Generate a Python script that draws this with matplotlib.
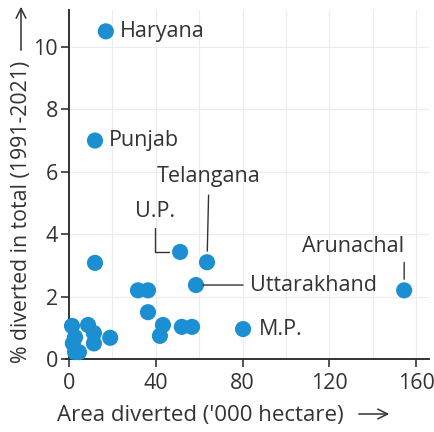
import matplotlib
matplotlib.use("Agg")
import matplotlib.pyplot as plt

area = [17, 12, 51.2, 63.6, 58.5, 154.4, 80.2, 12,
        31.8, 36.4, 36.4, 43.3, 41.9, 52, 56.7,
        1.4, 8.8, 2.8, 11.5, 19.0, 11.5, 1.8, 2.8, 4.6]
pct = [10.5, 7.0, 3.43, 3.1, 2.37, 2.2, 0.96, 3.08,
       2.2, 2.2, 1.5, 1.09, 0.74, 1.03, 1.03,
       1.06, 1.09, 0.7, 0.83, 0.68, 0.5, 0.5, 0.22, 0.22]
labels = ["Haryana", "Punjab", "U.P.", "Telangana", "Uttarakhand", "Arunachal", "M.P."]

xticks = [0, 40, 80, 120, 160]
yticks = [0, 2, 4, 6, 8, 10]
xlabel = "Area diverted ('000 hectare)"
ylabel = "% diverted in total (1991-2021)"

FONT = ["Open Sans", "DejaVu Sans"]
plt.rcParams["font.family"] = FONT
TXT = "#333333"
BLUE = "#1b8fd2"

W, H = 435, 432
fig = plt.figure(figsize=(W / 100, H / 100), dpi=100)
ax = fig.add_axes([0.151, 0.169, 0.836, 0.809])
ax.set_xlim(-1.5, 166)
ax.set_ylim(0, 11.2)

ax.scatter(area, pct, s=135, color=BLUE, edgecolors="none", zorder=3, clip_on=False)

ax.spines["top"].set_visible(False)
ax.spines["right"].set_visible(False)
ax.spines["left"].set_position(("data", 0))
for sp in ("left", "bottom"):
    ax.spines[sp].set_color(TXT)
    ax.spines[sp].set_linewidth(1.4)

ax.set_xticks(xticks)
ax.set_yticks(yticks)
ax.set_xticks([20, 60, 100, 140], minor=True)
ax.tick_params(axis="both", which="major", labelsize=15.5, colors=TXT, length=6, width=1.2)
ax.tick_params(axis="x", which="major", pad=4)
ax.tick_params(axis="y", which="major", pad=2)
ax.tick_params(axis="x", which="minor", length=0)
ax.grid(True, which="both", color="#ececec", linewidth=0.8, zorder=0)
ax.set_axisbelow(True)

# axis titles with arrows (figure pixel coordinates)
fig.text(57 / W, 1 - 415 / H, xlabel, fontsize=16, color=TXT, ha="left", va="center")
fig.text(22 / W, 1 - 363 / H, ylabel, fontsize=15.3, color=TXT, ha="center", va="bottom",
         rotation=90)
arrow = dict(arrowstyle="->,head_length=0.7,head_width=0.35", color=TXT, lw=1.1)
ax.annotate("", xy=(392, H - 414), xytext=(356, H - 414), xycoords="figure pixels",
            textcoords="figure pixels", arrowprops=arrow, annotation_clip=False)
ax.annotate("", xy=(21, H - 4), xytext=(21, H - 53), xycoords="figure pixels",
            textcoords="figure pixels", arrowprops=arrow, annotation_clip=False)

fs = 15.5
kw = dict(textcoords="offset pixels", fontsize=fs, color=TXT)
line = dict(arrowstyle="-", color=TXT, lw=1.0)

# Haryana, Punjab, M.P.: text to the right of the point
ax.annotate(labels[0], (area[0], pct[0]), xytext=(14, 0), ha="left", va="center", **kw)
ax.annotate(labels[1], (area[1], pct[1]), xytext=(14, 0), ha="left", va="center", **kw)
ax.annotate(labels[6], (area[6], pct[6]), xytext=(16, 0), ha="left", va="center", **kw)
# Telangana
ax.annotate(labels[3], (area[3], pct[3]), xytext=(2, 86), ha="center", va="center",
            arrowprops=dict(line, shrinkA=4, shrinkB=8), **kw)
# U.P.
ax.annotate(labels[2], (area[2], pct[2]), xytext=(-25, 40), ha="center", va="center",
            arrowprops=dict(line, shrinkA=2, shrinkB=8,
                            connectionstyle="angle,angleA=90,angleB=0,rad=0"), **kw)
# Uttarakhand
ax.annotate(labels[4], (area[4], pct[4]), xytext=(54, 0), ha="left", va="center",
            arrowprops=dict(line, shrinkA=3, shrinkB=5), **kw)
# Arunachal
ax.annotate(labels[5], (area[5], pct[5]), xytext=(0, 44), ha="right", va="center",
            arrowprops=dict(line, shrinkA=2, shrinkB=8, relpos=(1, 0)), **kw)

fig.savefig("out.png", dpi=100)
